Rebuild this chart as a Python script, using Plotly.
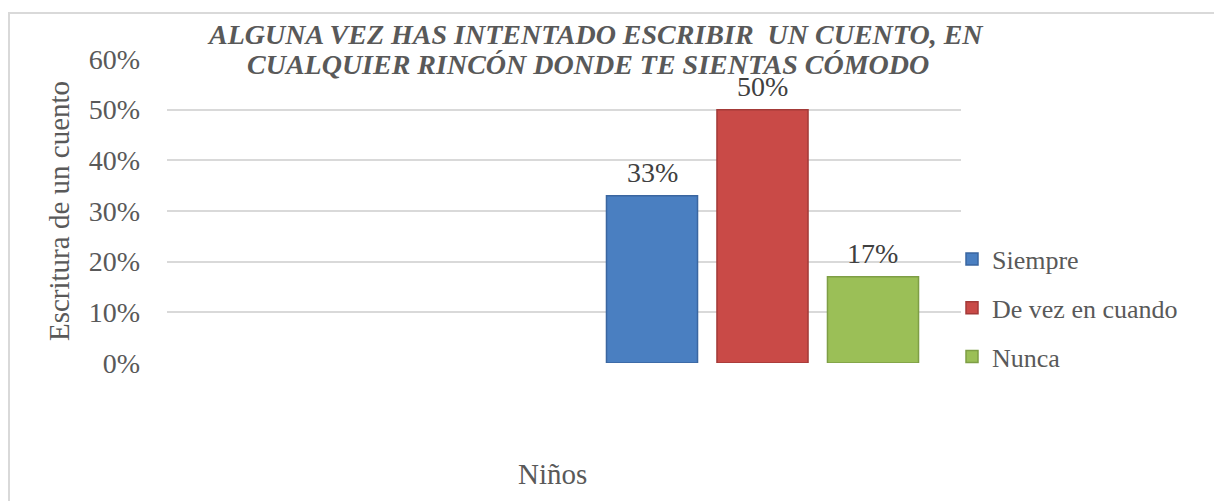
import plotly.graph_objects as go

categories = ["Niños"]
series_names = ["Siempre", "De vez en cuando", "Nunca"]
series_values = [[0.33], [0.50], [0.17]]
series_labels = ["33%", "50%", "17%"]
series_colors = ["#4a7fc1", "#c94a47", "#9bbf57"]
edge_colors = ["#3a66a0", "#a33a38", "#7e9e45"]
y_ticks = [0, 0.1, 0.2, 0.3, 0.4, 0.5, 0.6]
y_tick_labels = ["0%", "10%", "20%", "30%", "40%", "50%", "60%"]

W, H = 1222, 501
OFF = 8  # page body margin
ml, mt = 167 - OFF, 59 - OFF
mr = W - (961 - OFF)
mb = H - (363 - OFF)
pw, ph = W - ml - mr, H - mt - mb

font_family = "Liberation Serif"
gray = "#595959"
bargap = 0.165
bargroupgap = 0.176
x_range = [-1.5, 0.5]

fig = go.Figure()
for name, vals, col, ec in zip(series_names, series_values, series_colors, edge_colors):
    fig.add_trace(go.Bar(
        x=categories, y=vals, name=name,
        marker=dict(color=col, line=dict(color=ec, width=1.5)),
        legendgroup=name,
    ))

# data labels above each bar
px_per_unit = pw / (x_range[1] - x_range[0])
slot = (1 - bargap) * px_per_unit / len(series_names)
for i, (vals, lab) in enumerate(zip(series_values, series_labels)):
    fig.add_annotation(
        x=categories[0], y=vals[0], text=lab, showarrow=False,
        xshift=(i - (len(series_names) - 1) / 2) * slot, yshift=23,
        yanchor="middle", xanchor="center",
        font=dict(family=font_family, size=28, color="#404040"),
    )


def sx(px):
    return (px - OFF - ml) / pw


def sy(py):
    return (H - mb - (py - OFF)) / ph


fig.update_layout(
    width=W, height=H,
    margin=dict(l=ml, r=mr, t=mt, b=mb, pad=0),
    paper_bgcolor="white", plot_bgcolor="white",
    barmode="group", bargap=bargap, bargroupgap=bargroupgap,
    font=dict(family=font_family, size=26, color=gray),
    showlegend=True,
    legend=dict(
        x=sx(952), xanchor="left",
        y=sy(308), yanchor="middle",
        font=dict(family=font_family, size=26, color=gray),
        tracegroupgap=12, traceorder="grouped",
        bgcolor="rgba(0,0,0,0)",
    ),
    xaxis=dict(
        type="category", range=x_range,
        showticklabels=False, showgrid=False, zeroline=False, showline=False,
    ),
    yaxis=dict(
        range=[0, 0.6], tickvals=y_ticks, ticktext=y_tick_labels,
        tickfont=dict(family=font_family, size=28, color=gray),
        showgrid=True, gridcolor="#d9d9d9", gridwidth=1.5,
        zeroline=False, showline=False, ticks="", ticklabelstandoff=26,
        title=dict(text="Escritura de un cuento", font=dict(family=font_family, size=29, color=gray), standoff=10),
    ),
)

# category axis title
fig.add_annotation(
    xref="paper", yref="paper",
    x=sx(552), y=sy(474), text="Niños", showarrow=False,
    xanchor="center", yanchor="middle",
    font=dict(family=font_family, size=29, color=gray),
)

fig.add_annotation(
    xref="paper", yref="paper",
    x=sx(595), y=sy(35),
    text="<b><i>ALGUNA VEZ HAS INTENTADO ESCRIBIR  UN CUENTO, EN</i></b>",
    showarrow=False, xanchor="center", yanchor="middle",
    font=dict(family=font_family, size=28, color=gray),
)
fig.add_annotation(
    xref="paper", yref="paper",
    x=sx(588), y=sy(64),
    text="<b><i>CUALQUIER RINCÓN DONDE TE SIENTAS CÓMODO</i></b>",
    showarrow=False, xanchor="center", yanchor="middle",
    font=dict(family=font_family, size=28, color=gray),
)

fig.add_shape(
    type="rect", xref="paper", yref="paper",
    x0=sx(OFF + 1), x1=sx(1260),
    y0=sy(540), y1=sy(13),
    line=dict(color="#d9d9d9", width=2), fillcolor="rgba(0,0,0,0)", layer="below",
)

fig.write_html("out.html")
